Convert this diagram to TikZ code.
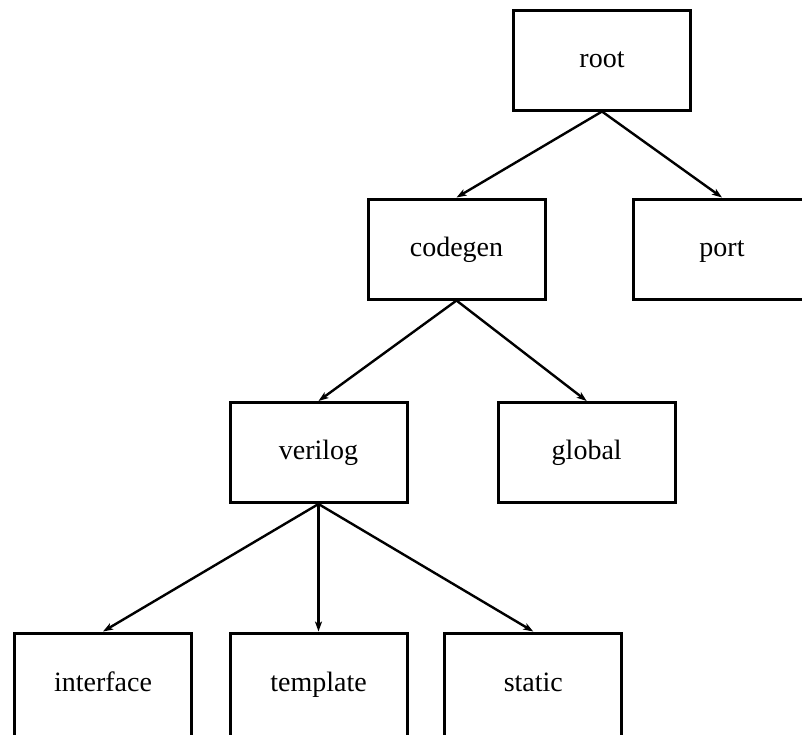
\documentclass[tikz,border=0pt]{standalone}
\usepackage{fontspec}
\setmainfont{Liberation Serif}
\usetikzlibrary{arrows.meta}
\begin{document}
\begin{tikzpicture}[x=1pt,y=-1pt,
  box/.style={draw, line width=3pt, minimum width=177pt, minimum height=100pt, inner sep=0pt, text height=20pt, text depth=6pt, font=\fontsize{28}{32}\selectfont},
  lowbox/.style={box, minimum height=112pt, text depth=16pt},
  link/.style={line width=2.4pt, -{Stealth[length=10pt,width=7pt,inset=2.5pt]}}]
\useasboundingbox (0,0) rectangle (802,734);
\clip (0,0) rectangle (802,734);
\node[box] (root) at (602,60) {root};
\node[box] (codegen) at (456.5,249) {codegen};
\node[box] (port) at (722,249) {port};
\node[box] (verilog) at (318.5,452.5) {verilog};
\node[box] (global) at (586.7,452.5) {global};
\node[lowbox] (interface) at (103,689) {interface};
\node[lowbox] (template) at (318.5,689) {template};
\node[lowbox] (static) at (533.3,689) {static};
\draw[link] (root.south) -- (codegen.north);
\draw[link] (root.south) -- (port.north);
\draw[link] (codegen.south) -- (verilog.north);
\draw[link] (codegen.south) -- (global.north);
\draw[link] (verilog.south) -- (interface.north);
\draw[link] (verilog.south) -- (template.north);
\draw[link] (verilog.south) -- (static.north);
\end{tikzpicture}
\end{document}
